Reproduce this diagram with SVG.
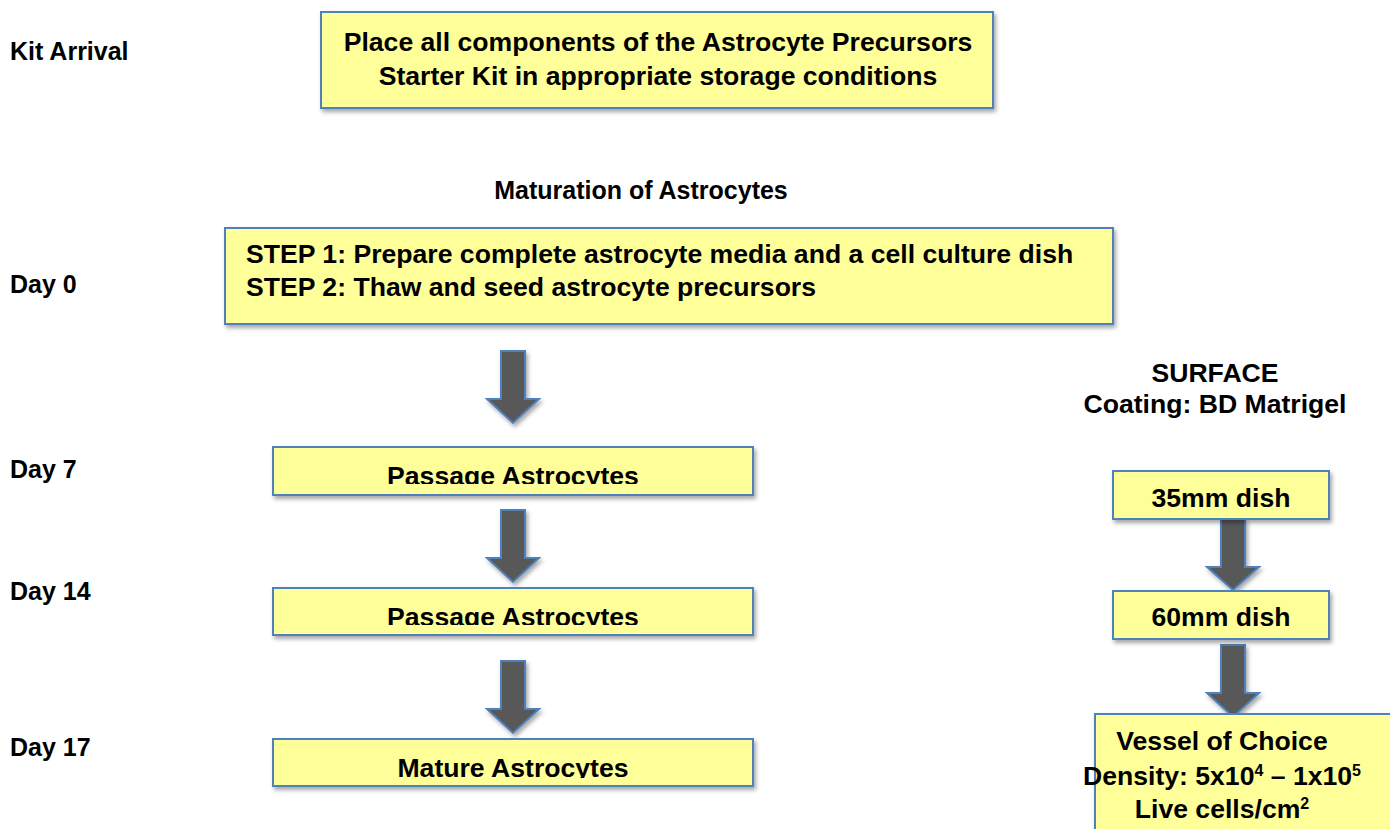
<svg xmlns="http://www.w3.org/2000/svg" width="1390" height="829" viewBox="0 0 1390 829">
<style>
.box{fill:#FFFF99;stroke:#4F81BD;stroke-width:2;filter:url(#sh)}
.arr{fill:#595959;stroke:#4F81BD;stroke-width:2;stroke-linejoin:miter;filter:url(#sh)}
text{font-family:"Liberation Sans",Arial,sans-serif;font-weight:bold;font-size:26.6px;fill:#000}
.c{text-anchor:middle}
.lbl{font-size:25px}
.sup{font-size:16px}
</style>
<defs>
<filter id="sh" x="-10%" y="-20%" width="130%" height="150%">
<feDropShadow dx="2" dy="3" stdDeviation="2" flood-color="#000" flood-opacity="0.35"/>
</filter>
<clipPath id="cp1"><rect x="273" y="447" width="480" height="37"/></clipPath>
<clipPath id="cp2"><rect x="273" y="588" width="480" height="37"/></clipPath>
<clipPath id="cp3"><rect x="273" y="739" width="480" height="39"/></clipPath>
</defs>
<rect width="1390" height="829" fill="#fff"/>
<g id="labels">
<text x="10" y="60" class="lbl">Kit Arrival</text>
<text x="10" y="293" class="lbl">Day 0</text>
<text x="10" y="478" class="lbl">Day 7</text>
<text x="10" y="600" class="lbl">Day 14</text>
<text x="10" y="756" class="lbl">Day 17</text>
<text x="641" y="199" class="c" style="font-size:25px">Maturation of Astrocytes</text>
<text x="1215" y="382" class="c">SURFACE</text>
<text x="1215" y="413" class="c">Coating: BD Matrigel</text>
</g>
<g id="connectors">
<path class="arr" d="M501,351 H525 V399 H539 L513,423 L487,399 H501 Z"/>
<path class="arr" d="M501,510 H525 V558 H539 L513,582 L487,558 H501 Z"/>
<path class="arr" d="M501,661 H525 V709 H539 L513,733 L487,709 H501 Z"/>
<path class="arr" d="M1221,519 H1245 V567 H1259 L1233,590 L1207,567 H1221 Z"/>
<path class="arr" d="M1221,645 H1245 V693 H1259 L1233,717 L1207,693 H1221 Z"/>
</g>
<g id="kit">
<rect class="box" x="321" y="12" width="672" height="96"/>
<text x="658" y="51" class="c">Place all components of the Astrocyte Precursors</text>
<text x="658" y="85" class="c">Starter Kit in appropriate storage conditions</text>
</g>
<g id="day0">
<rect class="box" x="225" y="228" width="888" height="96"/>
<text x="246" y="263">STEP 1: Prepare complete astrocyte media and a cell culture dish</text>
<text x="246" y="296">STEP 2: Thaw and seed astrocyte precursors</text>
</g>
<g id="passage1">
<rect class="box" x="273" y="447" width="480" height="48"/>
<text x="513" y="485" class="c" clip-path="url(#cp1)">Passage Astrocytes</text>
</g>
<g id="passage2">
<rect class="box" x="273" y="588" width="480" height="47"/>
<text x="513" y="626" class="c" clip-path="url(#cp2)">Passage Astrocytes</text>
</g>
<g id="mature">
<rect class="box" x="273" y="739" width="480" height="47"/>
<text x="513" y="777" class="c" clip-path="url(#cp3)">Mature Astrocytes</text>
</g>
<g id="dish35">
<rect class="box" x="1113" y="471" width="216" height="48"/>
<text x="1221" y="507" class="c">35mm dish</text>
</g>
<g id="dish60">
<rect class="box" x="1113" y="591" width="216" height="48"/>
<text x="1221" y="626" class="c">60mm dish</text>
</g>
<g id="vessel">
<rect class="box" x="1095" y="714" width="310" height="130"/>
<text x="1222" y="750" class="c">Vessel of Choice</text>
<text x="1222" y="785" class="c">Density: 5x10<tspan dy="-9" class="sup">4</tspan><tspan dy="9"> – 1x10</tspan><tspan dy="-9" class="sup">5</tspan></text>
<text x="1222" y="818" class="c">Live cells/cm<tspan dy="-9" class="sup">2</tspan></text>
</g>
</svg>
